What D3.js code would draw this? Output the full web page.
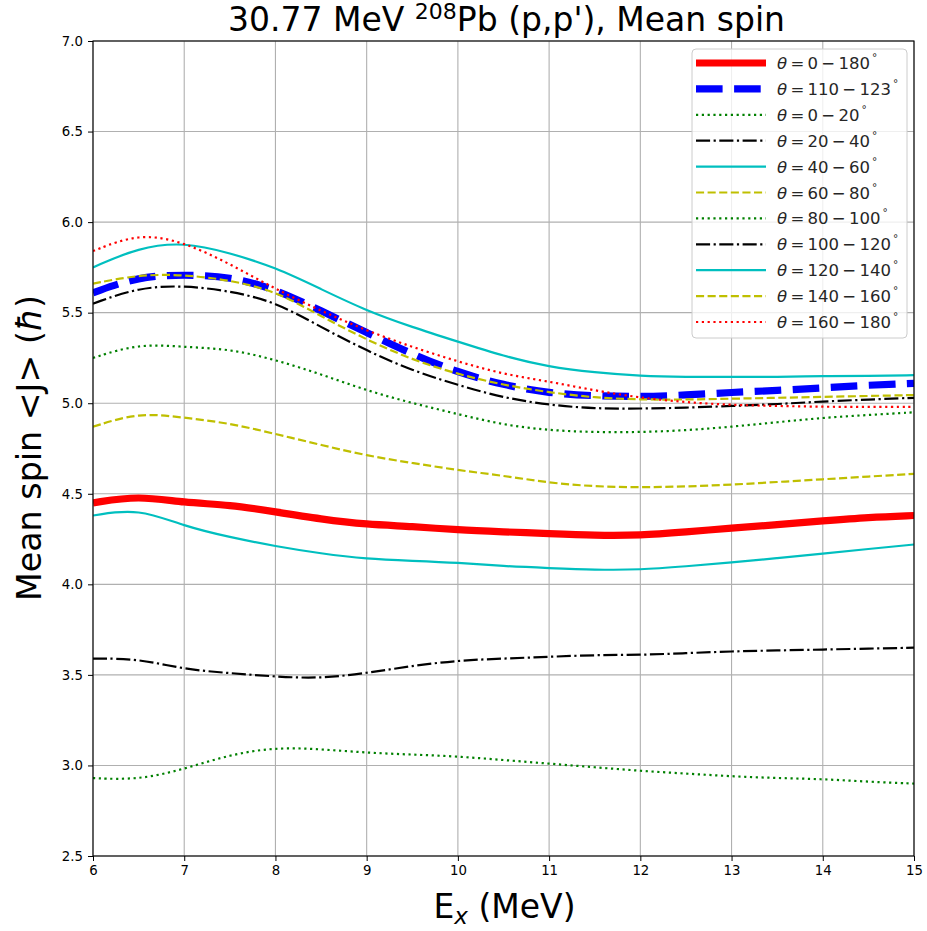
<!DOCTYPE html>
<html><head><meta charset="utf-8">
<script src="https://cdn.jsdelivr.net/npm/d3@7"></script>
<style>
body{margin:0;background:#fff;}
svg{display:block;}
.tick text{font-family:"DejaVu Sans",sans-serif;font-size:13.3px;fill:#000;}
</style></head>
<body><svg id="chart" width="927" height="931"></svg>
<script>
const energies = [6,6.5,7,7.5,8,8.5,9,9.5,10,10.5,11,11.5,12,12.5,13,13.5,14,14.5,15];
const theta0_180   = [4.45,4.49,4.45,4.44,4.40,4.36,4.33,4.32,4.30,4.29,4.28,4.27,4.27,4.29,4.31,4.33,4.35,4.37,4.38];
const theta110_123 = [5.61,5.70,5.71,5.70,5.63,5.51,5.39,5.27,5.17,5.10,5.055,5.04,5.035,5.045,5.06,5.07,5.085,5.10,5.11];
const theta0_20    = [2.93,2.92,2.98,3.06,3.10,3.09,3.07,3.06,3.05,3.03,3.01,2.99,2.97,2.955,2.94,2.93,2.925,2.91,2.90];
const theta20_40   = [3.59,3.59,3.53,3.51,3.49,3.48,3.51,3.55,3.58,3.59,3.60,3.61,3.61,3.62,3.63,3.635,3.64,3.645,3.65];
const theta40_60   = [4.38,4.42,4.32,4.26,4.21,4.17,4.14,4.13,4.12,4.10,4.09,4.08,4.08,4.10,4.12,4.145,4.17,4.195,4.22];
const theta60_80   = [4.87,4.95,4.92,4.89,4.83,4.77,4.71,4.67,4.63,4.60,4.56,4.54,4.535,4.54,4.55,4.565,4.58,4.595,4.61];
const theta80_100  = [5.25,5.33,5.31,5.30,5.24,5.16,5.07,5.00,4.94,4.88,4.85,4.84,4.84,4.85,4.87,4.895,4.92,4.935,4.95];
const theta100_120 = [5.55,5.64,5.65,5.62,5.56,5.42,5.29,5.18,5.10,5.03,4.99,4.97,4.97,4.975,4.985,4.995,5.01,5.02,5.03];
const theta120_140 = [5.75,5.86,5.89,5.83,5.75,5.63,5.51,5.42,5.34,5.26,5.20,5.17,5.15,5.145,5.145,5.145,5.15,5.15,5.155];
const theta140_160 = [5.66,5.71,5.71,5.68,5.62,5.48,5.35,5.24,5.16,5.10,5.06,5.03,5.02,5.02,5.025,5.03,5.035,5.04,5.045];
const theta160_180 = [5.84,5.94,5.89,5.77,5.63,5.51,5.40,5.31,5.23,5.16,5.12,5.07,5.03,5.005,4.99,4.985,4.98,4.98,4.98];

const seriesLabels = ["0-180","110-123","0-20","20-40","40-60","60-80","80-100","100-120","120-140","140-160","160-180"];
const seriesValues = [theta0_180,theta110_123,theta0_20,theta20_40,theta40_60,theta60_80,theta80_100,theta100_120,theta120_140,theta140_160,theta160_180];
const xTicks = [6,7,8,9,10,11,12,13,14,15];
const yTicks = [2.5,3.0,3.5,4.0,4.5,5.0,5.5,6.0,6.5,7.0];

const thin = 2.2, thick = 7.2;
const styles = [
  {color:"#ff0000", w:thick, dash:null},
  {color:"#0000ff", w:thick, dash:[26.6,11.5]},
  {color:"#008000", w:thin, dash:[thin,3.6]},
  {color:"#000000", w:thin, dash:[14.1,3.5,thin,3.5]},
  {color:"#00bfbf", w:thin, dash:null},
  {color:"#bfbf00", w:thin, dash:[8.1,3.5]},
  {color:"#008000", w:thin, dash:[thin,3.6]},
  {color:"#000000", w:thin, dash:[14.1,3.5,thin,3.5]},
  {color:"#00bfbf", w:thin, dash:null},
  {color:"#bfbf00", w:thin, dash:[8.1,3.5]},
  {color:"#ff0000", w:thin, dash:[thin,3.6]}
];

const L=93, R=914, T=41, B=856;
const svg = d3.select("#chart");
const x = d3.scaleLinear().domain([6,15]).range([L,R]);
const y = d3.scaleLinear().domain([2.5,7.0]).range([B,T]);

// grid
const grid = svg.append("g");
grid.selectAll("line.vx").data(xTicks).join("line")
  .attr("x1",d=>x(d)).attr("x2",d=>x(d)).attr("y1",T).attr("y2",B)
  .attr("stroke","#b0b0b0").attr("stroke-width",1.1);
grid.selectAll("line.hy").data(yTicks).join("line")
  .attr("y1",d=>y(d)).attr("y2",d=>y(d)).attr("x1",L).attr("x2",R)
  .attr("stroke","#b0b0b0").attr("stroke-width",1.1);

svg.append("defs").append("clipPath").attr("id","clip")
  .append("rect").attr("x",L).attr("y",T).attr("width",R-L).attr("height",B-T);

const line = d3.line().x(d=>x(d[0])).y(d=>y(d[1])).curve(d3.curveBasis);
const lines = svg.append("g").attr("clip-path","url(#clip)");
seriesValues.forEach((vals,i)=>{
  const st = styles[i];
  lines.append("path")
    .datum(energies.map((e,j)=>[e,vals[j]]))
    .attr("d",line).attr("fill","none")
    .attr("stroke",st.color).attr("stroke-width",st.w)
    .attr("stroke-dasharray",st.dash?st.dash.join(","):null)
    .attr("stroke-linecap","butt")
    .attr("stroke-linejoin","round");
});

// axes
const xAxis = d3.axisBottom(x).tickValues(xTicks).tickFormat(d3.format("d")).tickSize(5).tickPadding(5);
const yAxis = d3.axisLeft(y).tickValues(yTicks).tickFormat(d3.format(".1f")).tickSize(5).tickPadding(5);
const gx = svg.append("g").attr("transform",`translate(0,${B})`).call(xAxis);
const gy = svg.append("g").attr("transform",`translate(${L},0)`).call(yAxis);
[gx,gy].forEach(g=>{g.select(".domain").remove(); g.selectAll(".tick line").attr("stroke","#000").attr("stroke-width",1);});
svg.append("rect").attr("x",L).attr("y",T).attr("width",R-L).attr("height",B-T)
  .attr("fill","none").attr("stroke","#000").attr("stroke-width",1.1);

// title
const labelFont = '"DejaVu Sans",sans-serif';
const title = svg.append("text").attr("x",(L+R)/2 + 3).attr("y",31).attr("text-anchor","middle")
  .attr("font-family",labelFont).attr("font-size",33).attr("fill","#000");
title.append("tspan").text("30.77 MeV ");
title.append("tspan").attr("font-size",22).attr("dy",-12).text("208");
title.append("tspan").attr("dy",12).text("Pb (p,p'), Mean spin");

// x label
const xl = svg.append("text").attr("x",(L+R)/2 + 1).attr("y",918).attr("text-anchor","middle")
  .attr("font-family",labelFont).attr("font-size",33).attr("fill","#000");
xl.append("tspan").text("E");
xl.append("tspan").attr("font-size",23).attr("dy",6).attr("font-style","italic").text("x");
xl.append("tspan").attr("dy",-6).text(" (MeV)");

// y label
const ylab = svg.append("text").attr("transform",`translate(41,448) rotate(-90)`)
  .attr("text-anchor","middle").attr("font-family",labelFont).attr("font-size",33).attr("fill","#000")
  .attr("textLength",306).attr("lengthAdjust","spacingAndGlyphs");
ylab.append("tspan").text("Mean spin <J> (");
ylab.append("tspan").attr("font-style","italic").text("\u0127");
ylab.append("tspan").text(")");

// legend
const lg = svg.append("g");
lg.append("rect").attr("x",692).attr("y",49).attr("width",215).attr("height",289).attr("rx",4)
  .attr("fill","#fff").attr("fill-opacity",0.8).attr("stroke","#cccccc").attr("stroke-width",1);
seriesLabels.forEach((lab,i)=>{
  const st = styles[i];
  const cy = 63 + i*25.9;
  lg.append("line").attr("x1",696).attr("x2",766).attr("y1",cy).attr("y2",cy)
    .attr("stroke",st.color).attr("stroke-width",st.w)
    .attr("stroke-dasharray",st.dash?st.dash.join(","):null);
  const parts = lab.split("-");
  const t = lg.append("text").attr("x",777).attr("y",cy+6)
    .attr("font-family",'"DejaVu Sans",sans-serif').attr("font-size",16.5).attr("fill","#262626");
  t.append("tspan").attr("font-style","italic").text("\u03b8");
  t.append("tspan").text("\u2009=\u2009" + parts[0] + "\u2009\u2212\u2009" + parts[1]);
  t.append("tspan").attr("font-size",10.5).attr("dy",-8).attr("dx",2).text("\u00b0");
});
</script></body></html>
